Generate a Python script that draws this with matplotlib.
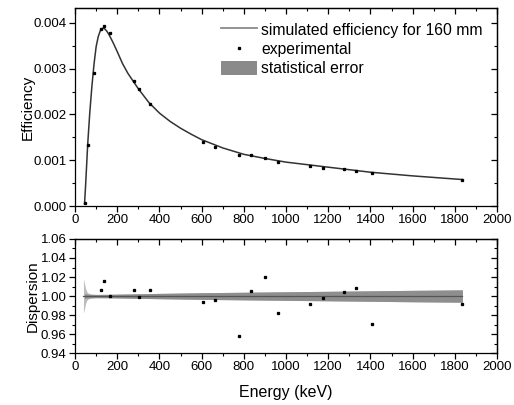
#!/usr/bin/env python3
import matplotlib
matplotlib.use('Agg')
from matplotlib import pyplot as plt
from matplotlib.ticker import MultipleLocator
from matplotlib.patches import Patch
from matplotlib.lines import Line2D

# experimental points (keV, efficiency, dispersion)
E_exp = [46.5, 59.5, 88.0, 121.8, 136.5, 165.9, 279.2, 302.9, 356.0, 604.7, 661.7,
         778.9, 834.8, 898.0, 964.1, 1112.1, 1173.2, 1274.5, 1332.5, 1408.0, 1836.1]
eff_exp = [0.00007, 0.00134, 0.00290, 0.00386, 0.00393, 0.00378, 0.00274, 0.00256,
           0.00223, 0.00140, 0.00130, 0.00112, 0.00112, 0.00105, 0.00097, 0.00088,
           0.00084, 0.00080, 0.00077, 0.00072, 0.00058]
E_disp = E_exp[3:]
disp = [1.0068, 1.0160, 1.0000, 1.0068, 0.9988, 1.0062, 0.9939, 0.9957, 0.9585,
        1.0058, 1.0195, 0.9827, 0.9915, 0.9984, 1.0041, 1.0089, 0.9711, 0.9921]

# simulated efficiency curve
E_sim = [45, 50, 60, 70, 80, 90, 100, 110, 120, 130, 140, 150, 160, 180, 200, 225,
         250, 275, 300, 350, 400, 450, 500, 550, 600, 700, 800, 900, 1000, 1200,
         1400, 1600, 1836]
eff_sim = [0.00005, 0.00045, 0.00135, 0.00205, 0.00262, 0.00310, 0.00348, 0.00370,
           0.00383, 0.00388, 0.00387, 0.00382, 0.00375, 0.00357, 0.00337, 0.00311,
           0.00290, 0.00273, 0.00256, 0.00226, 0.00203, 0.00185, 0.00170, 0.00157,
           0.00145, 0.00127, 0.00113, 0.00104, 0.00096, 0.00085, 0.00074, 0.00066,
           0.00058]

# statistical error band (half width) around 1
E_err = [40, 45, 50, 55, 60, 70, 80, 100, 150, 200, 400, 600, 800, 1000, 1200,
         1400, 1600, 1836]
err_spike = [0.018, 0.013, 0.008, 0.005, 0.0035, 0.0024, 0.0020, 0.0017, 0.0018,
             0.0020, 0.0028, 0.0035, 0.0040, 0.0045, 0.0050, 0.0055, 0.0060, 0.0065]
err_band = [0.0, 0.0025, 0.0025, 0.0022, 0.0020, 0.0019, 0.0018, 0.0017, 0.0018,
            0.0020, 0.0028, 0.0035, 0.0040, 0.0045, 0.0050, 0.0055, 0.0060, 0.0065]

plt.rcParams['font.family'] = ['Liberation Sans', 'DejaVu Sans']
plt.rcParams['axes.linewidth'] = 0.9
plt.rcParams['xtick.labelsize'] = 9.5
plt.rcParams['ytick.labelsize'] = 9.5

fig = plt.figure(figsize=(5.14, 4.05), dpi=100)
ax1 = fig.add_axes([0.146, 0.491, 0.821, 0.489])
ax2 = fig.add_axes([0.146, 0.128, 0.821, 0.282])

ax1.plot(E_sim, eff_sim, color='#333333', lw=1.1, zorder=2)
ax1.plot(E_exp, eff_exp, 's', color='black', ms=1.4, zorder=4)
ax1.set_xlim(0, 2000)
ax1.set_ylim(0, 0.00432)
ax1.yaxis.set_major_locator(MultipleLocator(0.001))
ax1.yaxis.set_minor_locator(MultipleLocator(0.0005))
ax1.yaxis.set_major_formatter(plt.FormatStrFormatter('%.3f'))
ax1.set_ylabel('Efficiency', fontsize=11, labelpad=-1)

handles = [Line2D([], [], color='#8a8a8a', lw=1.3),
           Line2D([], [], ls='', marker='s', color='black', ms=1.4),
           Patch(facecolor='#8a8a8a', edgecolor='none')]
ax1.legend(handles, ['simulated efficiency for 160 mm', 'experimental', 'statistical error'],
           loc='upper right', frameon=False, fontsize=11.3, handlelength=2.3,
           handleheight=1.0, labelspacing=0.25, handletextpad=0.3,
           borderaxespad=0.7, borderpad=0.2)

ax2.fill_between(E_err, [1 - h for h in err_spike], [1 + h for h in err_spike],
                 color='#bdbdbd', lw=0, zorder=1)
ax2.fill_between(E_err[1:], [1 - h for h in err_band[1:]], [1 + h for h in err_band[1:]],
                 color='#8e8e8e', lw=0, zorder=2)
ax2.plot([E_err[0], E_err[-1]], [1, 1], color='#555555', lw=0.9, zorder=3)
ax2.plot(E_disp, disp, 's', color='black', ms=1.4, zorder=4)
ax2.set_xlim(0, 2000)
ax2.set_ylim(0.94, 1.06)
ax2.yaxis.set_major_locator(MultipleLocator(0.02))
ax2.yaxis.set_minor_locator(MultipleLocator(0.01))
ax2.yaxis.set_major_formatter(plt.FormatStrFormatter('%.2f'))
ax2.set_ylabel('Dispersion', fontsize=11, labelpad=1)
ax2.set_xlabel('Energy (keV)', fontsize=11.5, labelpad=8)

for ax in (ax1, ax2):
    ax.xaxis.set_major_locator(MultipleLocator(200))
    ax.xaxis.set_minor_locator(MultipleLocator(100))
    ax.tick_params(which='major', direction='out', length=4, width=0.9, pad=2)
    ax.tick_params(which='minor', direction='out', length=2, width=0.8)
    top = ax.secondary_xaxis('top')
    top.xaxis.set_major_locator(MultipleLocator(200))
    top.xaxis.set_minor_locator(MultipleLocator(100))
    top.tick_params(which='major', direction='in', length=4, width=0.9, labeltop=False)
    top.tick_params(which='minor', direction='in', length=2, width=0.8)
    right = ax.secondary_yaxis('right')
    right.yaxis.set_major_locator(ax.yaxis.get_major_locator())
    right.yaxis.set_minor_locator(ax.yaxis.get_minor_locator())
    right.tick_params(which='major', direction='in', length=4, width=0.9, labelright=False)
    right.tick_params(which='minor', direction='in', length=2, width=0.8)

fig.savefig('out.png', dpi=100)
